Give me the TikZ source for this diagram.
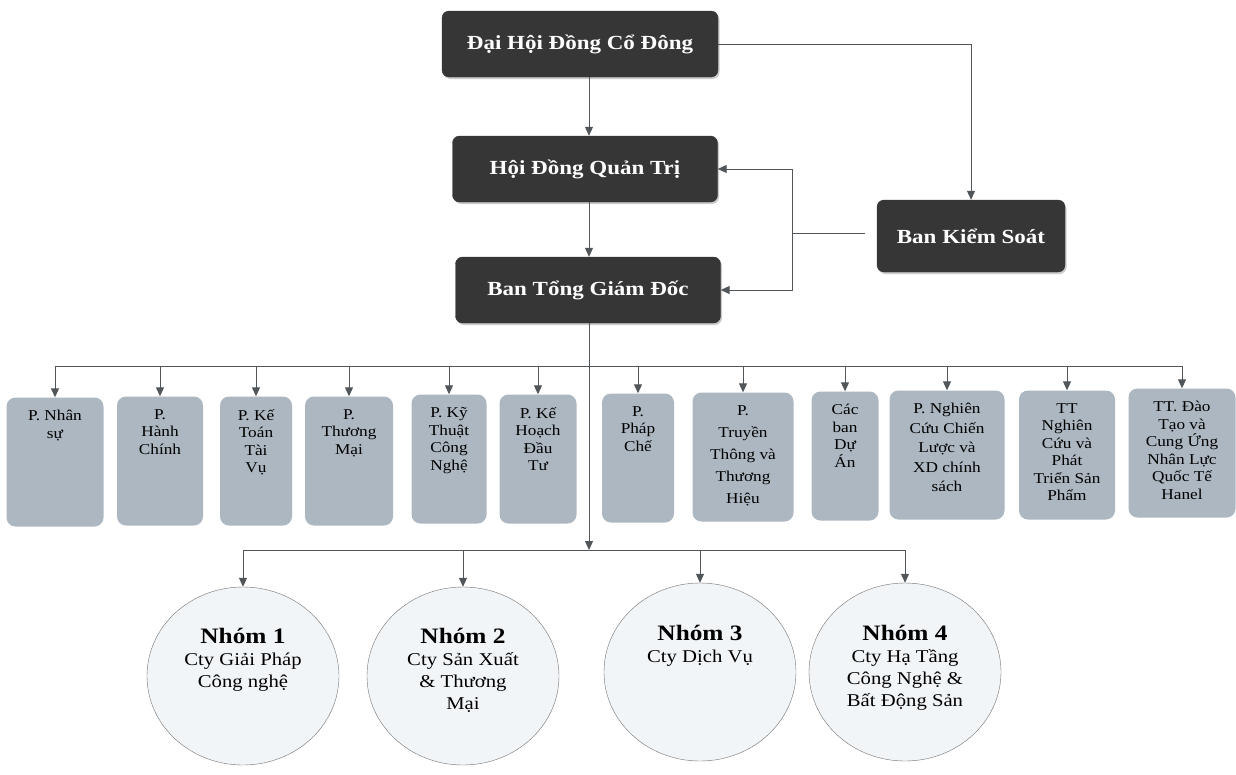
\documentclass[tikz,border=0pt]{standalone}
\usepackage{fontspec}
\setmainfont{Liberation Serif}[FakeStretch=1.15]
\usetikzlibrary{positioning,calc,arrows.meta,shadows,shapes.geometric}
\definecolor{boxDark}{RGB}{54,54,54}
\definecolor{deptFill}{RGB}{172,183,193}
\definecolor{grpFill}{RGB}{242,245,248}
\definecolor{lineColor}{RGB}{80,86,90}
\newcommand{\grptitlefont}{\fontsize{22}{24}\selectfont\bfseries}
\tikzset{
    topbox/.style={
        draw=black!80,
        fill=boxDark,
        rounded corners=7pt,
        text=white,
        font=\fontsize{20}{22}\selectfont\bfseries,
        minimum height=66pt,
        inner sep=0pt,
        drop shadow={shadow xshift=1.5pt, shadow yshift=-2pt, fill=black!40}
    },
    deptbox/.style={
        fill=deptFill,
        rounded corners=9pt,
        minimum height=129pt,
        inner sep=0pt
    },
    depttext/.style={
        align=center,
        font=\fontsize{15}{17.5}\selectfont,
        inner sep=0pt,
        execute at begin node={\rule{0pt}{15pt}}
    },
    grpcircle/.style={
        ellipse,
        draw=black!55,
        fill=grpFill,
        minimum width=192pt,
        minimum height=178pt,
        inner sep=0pt
    },
    grptext/.style={
        align=center,
        font=\fontsize{18}{22}\selectfont,
        inner sep=0pt,
        execute at begin node={\rule{0pt}{20pt}}
    },
    conn/.style={
        draw=lineColor,
        line width=1pt,
        -{Triangle[width=8pt,length=9pt]}
    },
    wire/.style={
        draw=lineColor,
        line width=1pt
    }
}

\begin{document}
\begin{tikzpicture}[x=1pt, y=-1pt]
    \fill[white] (0,0) rectangle (1236,774);
    \useasboundingbox (0,0) rectangle (1236,774);

    % Cap lanh dao
    \node[topbox, minimum width=276pt] (dhcd) at (580,44) {Đại Hội Đồng Cổ Đông};
    \node[topbox, minimum width=265pt] (hdqt) at (585,169) {Hội Đồng Quản Trị};
    \node[topbox, minimum width=265pt] (btgd) at (588,290) {Ban Tổng Giám Đốc};
    \node[topbox, minimum width=188pt, minimum height=72pt] (bks) at (971,236) {Ban Kiểm Soát};

    \coordinate (spine) at (589,0);
    \coordinate (ksj) at (792,233);

    \draw[conn] (dhcd.south -| spine) -- (hdqt.north -| spine);
    \draw[conn] (hdqt.south -| spine) -- (btgd.north -| spine);
    \draw[conn] (dhcd.east) -| (bks.north);
    \draw[wire, shorten <=12pt] (bks.west |- ksj) -- (ksj);
    \draw[conn] (ksj) |- (hdqt.east);
    \draw[conn] (ksj) |- (btgd.east);

    % Cac phong ban
    \node[deptbox, minimum width=97pt] (d1) at (55,462) {};
    \node[deptbox, minimum width=86pt] (d2) at (160,461) {};
    \node[deptbox, minimum width=72pt] (d3) at (256,461) {};
    \node[deptbox, minimum width=88pt] (d4) at (349,461) {};
    \node[deptbox, minimum width=75pt] (d5) at (449,459) {};
    \node[deptbox, minimum width=77pt] (d6) at (538,459) {};
    \node[deptbox, minimum width=72pt] (d7) at (638,458) {};
    \node[deptbox, minimum width=101pt] (d8) at (743,457) {};
    \node[deptbox, minimum width=67pt] (d9) at (845,456) {};
    \node[deptbox, minimum width=115pt] (d10) at (947,455) {};
    \node[deptbox, minimum width=96pt] (d11) at (1067,455) {};
    \node[deptbox, minimum width=107pt] (d12) at (1182,453) {};

    \node[depttext, below=13pt of d1.north] (d1t) {P. Nhân\\sự};
    \node[depttext, below=13pt of d2.north] (d2t) {P.\\Hành\\Chính};
    \node[depttext, below=13pt of d3.north] (d3t) {P. Kế\\Toán\\Tài\\Vụ};
    \node[depttext, below=13pt of d4.north] (d4t) {P.\\Thương\\Mại};
    \node[depttext, below=13pt of d5.north] (d5t) {P. Kỹ\\Thuật\\Công\\Nghệ};
    \node[depttext, below=13pt of d6.north] (d6t) {P. Kế\\Hoạch\\Đầu\\Tư};
    \node[depttext, below=13pt of d7.north] (d7t) {P.\\Pháp\\Chế};
    \node[depttext, below=13pt of d8.north, font=\fontsize{15}{22}\selectfont] (d8t) {P.\\Truyền\\Thông và\\Thương\\Hiệu};
    \node[depttext, below=13pt of d9.north] (d9t) {Các\\ban\\Dự\\Án};
    \node[depttext, below=13pt of d10.north, font=\fontsize{15}{19.5}\selectfont] (d10t) {P. Nghiên\\Cứu Chiến\\Lược và\\XD chính\\sách};
    \node[depttext, below=13pt of d11.north] (d11t) {TT\\Nghiên\\Cứu và\\Phát\\Triển Sản\\Phẩm};
    \node[depttext, below=13pt of d12.north] (d12t) {TT. Đào\\Tạo và\\Cung Ứng\\Nhân Lực\\Quốc Tế\\Hanel};

    \coordinate (bus) at (0,366);
    \draw[wire] (d1.north |- bus) -- (d12.north |- bus);
    \draw[conn] (d1.north |- bus) -- (d1.north);
    \draw[conn] (d2.north |- bus) -- (d2.north);
    \draw[conn] (d3.north |- bus) -- (d3.north);
    \draw[conn] (d4.north |- bus) -- (d4.north);
    \draw[conn] (d5.north |- bus) -- (d5.north);
    \draw[conn] (d6.north |- bus) -- (d6.north);
    \draw[conn] (d7.north |- bus) -- (d7.north);
    \draw[conn] (d8.north |- bus) -- (d8.north);
    \draw[conn] (d9.north |- bus) -- (d9.north);
    \draw[conn] (d10.north |- bus) -- (d10.north);
    \draw[conn] (d11.north |- bus) -- (d11.north);
    \draw[conn] (d12.north |- bus) -- (d12.north);

    % Cac nhom cong ty
    \node[grpcircle] (g1) at (243,676) {};
    \node[grpcircle] (g2) at (463,676) {};
    \node[grpcircle] (g3) at (700,672) {};
    \node[grpcircle] (g4) at (905,672) {};

    \node[grptext, below=41pt of g1.north] (g1t) {{\grptitlefont Nhóm 1}\\Cty Giải Pháp\\Công nghệ};
    \node[grptext, below=41pt of g2.north] (g2t) {{\grptitlefont Nhóm 2}\\Cty Sản Xuất\\\& Thương\\Mại};
    \node[grptext, below=42pt of g3.north] (g3t) {{\grptitlefont Nhóm 3}\\Cty Dịch Vụ};
    \node[grptext, below=42pt of g4.north] (g4t) {{\grptitlefont Nhóm 4}\\Cty Hạ Tầng\\Công Nghệ \&\\Bất Động Sản};

    \coordinate (lbus) at (0,550);
    \draw[conn] (btgd.south -| spine) -- (spine |- lbus);
    \draw[wire] (g1.north |- lbus) -- (g4.north |- lbus);
    \draw[conn] (g1.north |- lbus) -- (g1.north);
    \draw[conn] (g2.north |- lbus) -- (g2.north);
    \draw[conn] (g3.north |- lbus) -- (g3.north);
    \draw[conn] (g4.north |- lbus) -- (g4.north);
\end{tikzpicture}
\end{document}
